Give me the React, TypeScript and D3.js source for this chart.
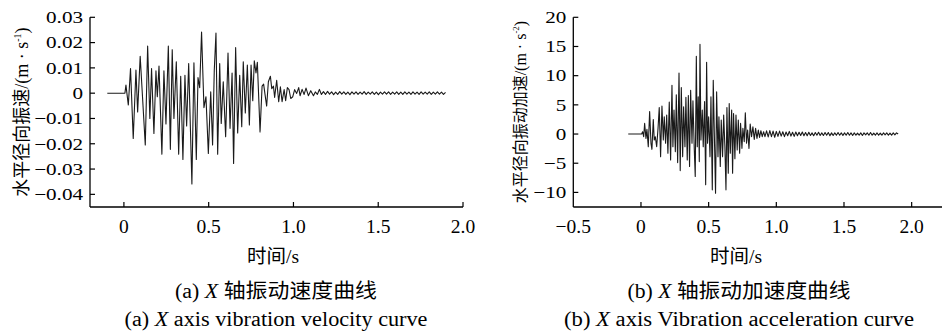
import React from "react";
import * as d3 from "d3";

// panel (a): horizontal radial vibration velocity, [time s, m/s]
const velocity: [number, number][] = [
  [-0.098, 0], [0.006, 0], [0.012, 0.0032], [0.026, -0.0047], [0.039, 0.0097], [0.055, -0.0179],
  [0.071, 0.0091], [0.081, -0.0074], [0.096, 0.0146], [0.126, -0.0205], [0.14, 0.0186], [0.153, -0.01],
  [0.163, 0.0097], [0.177, -0.0159], [0.189, 0.0088], [0.197, -0.0014], [0.207, 0.0107], [0.224, -0.0241],
  [0.236, 0.0088], [0.248, -0.0122], [0.262, 0.0186], [0.274, -0.0222], [0.285, 0.0172], [0.295, -0.01],
  [0.309, 0.0124], [0.323, -0.0241], [0.335, 0.0067], [0.348, -0.0262], [0.36, 0.0071], [0.37, -0.013],
  [0.382, 0.0117], [0.401, -0.0359], [0.413, 0.012], [0.427, -0.0262], [0.437, 0.0062], [0.447, 0.0022],
  [0.458, 0.0242], [0.472, -0.0057], [0.484, -0.0014], [0.498, -0.0238], [0.512, 0.0005], [0.523, -0.0205],
  [0.533, 0.0091], [0.543, 0.0238], [0.553, -0.0241], [0.565, 0.0117], [0.574, -0.012], [0.586, 0.0045],
  [0.6, -0.0172], [0.614, 0.0159], [0.626, -0.0139], [0.638, 0.008], [0.647, -0.0278], [0.659, 0.018],
  [0.671, -0.0157], [0.683, 0.0071], [0.695, -0.0133], [0.704, 0.0124], [0.716, -0.0078], [0.728, 0.0111],
  [0.74, -0.0126], [0.75, 0.0111], [0.76, -0.003], [0.769, 0.0128], [0.779, 0.008], [0.787, 0.0122],
  [0.803, -0.0153], [0.815, 0.0028], [0.824, 0.0036], [0.832, -0.0004], [0.842, -0.0051], [0.852, 0.0045],
  [0.864, 0.0067], [0.872, 0.0018], [0.882, 0.0028], [0.889, -0.0017], [0.901, 0.0051], [0.913, -0.0034],
  [0.923, 0.0025], [0.933, -0.0034], [0.945, 0.0014], [0.954, -0.003], [0.964, 0.0022], [0.974, 0.0014],
  [0.984, -0.0021], [0.996, -0.0014], [1.007, 0.0014], [1.019, -0.0001], [1.031, 0.0022], [1.039, -0.001],
  [1.051, 0.0015], [1.063, -0.0005], [1.074, 0.002], [1.088, -0.001], [1.102, 0.001], [1.118, -0.001],
  [1.129, 0.0005], [1.141, -0.0005], [1.153, 0.0015], [1.165, -0.0005],
  [1.177, 0.0006], [1.189, -0.0005], [1.201, 0.0007], [1.213, -0.0004], [1.225, 0.0005], [1.237, -0.0006],
  [1.249, 0.0004], [1.261, -0.0005], [1.273, 0.0006], [1.285, -0.0004], [1.297, 0.0005], [1.309, -0.0005],
  [1.321, 0.0004], [1.333, -0.0006], [1.345, 0.0005], [1.357, -0.0004], [1.369, 0.0005], [1.381, -0.0005],
  [1.393, 0.0004], [1.405, -0.0004], [1.417, 0.0006], [1.429, -0.0005], [1.441, 0.0004], [1.453, -0.0004],
  [1.465, 0.0005], [1.477, -0.0005], [1.489, 0.0004], [1.501, -0.0006], [1.513, 0.0004], [1.525, -0.0004],
  [1.537, 0.0005], [1.549, -0.0004], [1.561, 0.0005], [1.573, -0.0005], [1.585, 0.0004], [1.597, -0.0004],
  [1.609, 0.0005], [1.621, -0.0005], [1.633, 0.0004], [1.645, -0.0005], [1.657, 0.0005], [1.669, -0.0004],
  [1.681, 0.0004], [1.693, -0.0005], [1.705, 0.0005], [1.717, -0.0004], [1.729, 0.0004], [1.741, -0.0005],
  [1.753, 0.0005], [1.765, -0.0004], [1.777, 0.0004], [1.789, -0.0004], [1.801, 0.0005], [1.813, -0.0005],
  [1.825, 0.0004], [1.837, -0.0004], [1.849, 0.0005], [1.861, -0.0004], [1.873, 0.0004], [1.885, -0.0005],
  [1.897, 0.0003],
];

// panel (b): horizontal radial vibration acceleration, [time s, m/s^2]
const acceleration: [number, number][] = [
  [-0.094, 0], [0.005, 0], [0.012, 0.4], [0.02, -0.45], [0.027, 1.82], [0.037, -0.74], [0.044, 0.8],
  [0.054, -2.16], [0.064, 3.87], [0.074, -1.59], [0.081, -2.62], [0.091, 2.5], [0.098, -1.02], [0.106, -0.46],
  [0.116, -2.16], [0.126, 0.97], [0.135, 4.55], [0.145, -3.87], [0.155, 4.78], [0.165, -1.02], [0.172, 2.96],
  [0.182, -1.59], [0.19, 3.24], [0.199, -3.3], [0.209, 5.46], [0.219, -4.44], [0.229, 8.36], [0.236, -2.16],
  [0.244, 4.1], [0.254, -3.01], [0.261, 6.71], [0.271, -4.89], [0.281, 10.47], [0.29, -6.26], [0.298, 7.96],
  [0.308, -3.87], [0.315, 4.66], [0.325, -2.16], [0.332, 6.31], [0.342, -4.44], [0.35, 6.6], [0.359, -5.57],
  [0.367, 7.51], [0.377, -1.59], [0.384, 5.69], [0.394, -2.73], [0.401, -7.28], [0.409, 13.31], [0.416, -2.16],
  [0.423, 6.37], [0.431, -4.72], [0.436, 15.36], [0.443, -1.02], [0.453, 4.1], [0.46, -2.16], [0.47, 5.57],
  [0.478, -8.7], [0.485, 12.29], [0.492, -1.59], [0.5, 2.96], [0.51, -3.87], [0.517, 6.37], [0.527, -9.56],
  [0.534, 9.21], [0.544, -2.16], [0.551, -10.13], [0.559, 7.22], [0.569, -3.87], [0.576, 2.96], [0.586, -5.57],
  [0.593, 2.39], [0.603, -3.87], [0.611, 3.24], [0.62, -2.16], [0.628, -9.56], [0.635, 4.55], [0.645, -6.71],
  [0.652, 5.23], [0.66, -3.3], [0.67, 4.1], [0.677, -6.71], [0.684, 3.53], [0.694, -4.21], [0.702, 3.24],
  [0.711, -2.73], [0.719, 2.39], [0.729, -3.3], [0.736, 1.82], [0.746, -2.45], [0.753, 0.97], [0.763, -1.31],
  [0.771, 3.64], [0.78, -1.59], [0.788, 0.68], [0.798, -2.45], [0.807, 1.71], [0.817, -0.46], [0.827, 1.25],
  [0.837, -0.91], [0.847, 0.97], [0.857, -0.74], [0.867, 0.68], [0.876, -0.57], [0.886, 0.57], [0.896, -0.46],
  [0.906, 0.4], [0.916, -0.46],
  [0.928, 0.55], [0.94, -0.5], [0.952, 0.6], [0.964, -0.45], [0.976, 0.5], [0.988, -0.55], [1.0, 0.45],
  [1.012, -0.4], [1.024, 0.5], [1.036, -0.35], [1.048, 0.4], [1.06, -0.45], [1.072, 0.35], [1.084, -0.3],
  [1.096, 0.45], [1.108, -0.35], [1.12, 0.3], [1.132, -0.4], [1.144, 0.35], [1.156, -0.3], [1.168, 0.3],
  [1.18, -0.25], [1.192, 0.35], [1.204, -0.3], [1.216, 0.25], [1.228, -0.3], [1.24, 0.3], [1.252, -0.25],
  [1.264, 0.2], [1.276, -0.3], [1.288, 0.25], [1.3, -0.2], [1.312, 0.3], [1.324, -0.25], [1.336, 0.2],
  [1.348, -0.25], [1.36, 0.25], [1.372, -0.2], [1.384, 0.25], [1.396, -0.3], [1.408, 0.2], [1.42, -0.25],
  [1.432, 0.2], [1.444, -0.2], [1.456, 0.25], [1.468, -0.2], [1.48, 0.2], [1.492, -0.25], [1.504, 0.2],
  [1.516, -0.2], [1.528, 0.25], [1.54, -0.2], [1.552, 0.2], [1.564, -0.25], [1.576, 0.2], [1.588, -0.2],
  [1.6, 0.15], [1.612, -0.2], [1.624, 0.2], [1.636, -0.25], [1.648, 0.2], [1.66, -0.15], [1.672, 0.2],
  [1.684, -0.2], [1.696, 0.25], [1.708, -0.2], [1.72, 0.15], [1.732, -0.2], [1.744, 0.2], [1.756, -0.2],
  [1.768, 0.15], [1.78, -0.2], [1.792, 0.2], [1.804, -0.15], [1.816, 0.2], [1.828, -0.2], [1.84, 0.15],
  [1.852, -0.2], [1.864, 0.2], [1.876, -0.15], [1.888, 0.2], [1.9, 0],
];

const velYTicks = [0.03, 0.02, 0.01, 0, -0.01, -0.02, -0.03, -0.04];
const velYLabels = ["0.03", "0.02", "0.01", "0", "\u22120.01", "\u22120.02", "\u22120.03", "\u22120.04"];
const velXTicks = [0, 0.5, 1, 1.5, 2];
const velXLabels = ["0", "0.5", "1.0", "1.5", "2.0"];

const accYTicks = [20, 15, 10, 5, 0, -5, -10];
const accYLabels = ["20", "15", "10", "5", "0", "\u22125", "\u221210"];
const accXTicks = [-0.5, 0, 0.5, 1, 1.5, 2];
const accXLabels = ["\u22120.5", "0", "0.5", "1.0", "1.5", "2.0"];

const FONT = '"Liberation Serif", "Times New Roman", "Noto Sans CJK SC", serif';

type PanelProps = {
  data: [number, number][];
  xDomain: [number, number];
  xRange: [number, number];
  yDomain: [number, number];
  xTicks: number[];
  xLabels: string[];
  yTicks: number[];
  yLabels: string[];
  yTitle: string;
  unitExp: string;
  yTitleX: number;
  yTitleSize: number;
  axisEnd: number;
  center: number;
  capCn: string;
  capCnLen: number;
  capEn: string;
  capEnLen: number;
  letter: string;
};

const TOP = 17.3;
const BOTTOM = 207;

function Panel(p: PanelProps) {
  const x = d3.scaleLinear().domain(p.xDomain).range(p.xRange);
  const y = d3.scaleLinear().domain(p.yDomain).range([BOTTOM, TOP]);
  const line = d3
    .line<[number, number]>()
    .x((d) => x(d[0]))
    .y((d) => y(d[1]));
  const x0 = p.xRange[0];

  return (
    <g fontFamily={FONT} fill="#000">
      <path d={line(p.data) ?? ""} fill="none" stroke="#1a1a1a" strokeWidth={1.1} strokeLinejoin="round" />

      {/* axes */}
      <line x1={x0} x2={x0} y1={TOP} y2={BOTTOM} stroke="#000" strokeWidth={1.3} />
      <line x1={x0} x2={p.axisEnd} y1={BOTTOM} y2={BOTTOM} stroke="#000" strokeWidth={1.3} />

      {p.yTicks.map((t, i) => (
        <g key={"y" + t}>
          <line x1={x0} x2={x0 + 5} y1={y(t)} y2={y(t)} stroke="#000" strokeWidth={1.2} />
          <text
            transform={`translate(${x0 - 7},${y(t)}) scale(1.28,1)`}
            textAnchor="end"
            dy="0.35em"
            fontSize={16.5}
          >
            {p.yLabels[i]}
          </text>
        </g>
      ))}

      {p.xTicks.map((t, i) => (
        <g key={"x" + t}>
          {x(t) > x0 + 1 && (
            <line x1={x(t)} x2={x(t)} y1={BOTTOM} y2={BOTTOM - 5} stroke="#000" strokeWidth={1.2} />
          )}
          <text x={x(t)} y={233} textAnchor="middle" fontSize={19.5}>
            {p.xLabels[i]}
          </text>
        </g>
      ))}

      <text
        transform={`translate(${p.yTitleX},${(TOP + BOTTOM) / 2}) rotate(-90)`}
        textAnchor="middle"
        dy="0.35em"
        fontSize={p.yTitleSize}
      >
        {p.yTitle}
        <tspan fontSize={p.yTitleSize * 0.55} dy={-p.yTitleSize * 0.4}>
          {p.unitExp}
        </tspan>
        <tspan dy={p.yTitleSize * 0.4}>)</tspan>
      </text>

      <text x={p.center - 3} y={263} textAnchor="middle" fontSize={19.5}>
        时间/s
      </text>

      <text x={p.center} y={298} textAnchor="middle" fontSize={20} textLength={p.capCnLen} lengthAdjust="spacingAndGlyphs">
        ({p.letter}) <tspan fontStyle="italic">X</tspan> {p.capCn}
      </text>
      <text x={p.center} y={326} textAnchor="middle" fontSize={20} textLength={p.capEnLen} lengthAdjust="spacingAndGlyphs">
        ({p.letter}) <tspan fontStyle="italic">X</tspan> {p.capEn}
      </text>
    </g>
  );
}

export default function App() {
  return (
    <svg
      width={942}
      height={332}
      style={{ position: "absolute", left: 0, top: 0, background: "#fff" }}
    >
      <Panel
        data={velocity}
        xDomain={[-0.2, 2.0]}
        xRange={[90, 463]}
        yDomain={[-0.045, 0.03]}
        xTicks={velXTicks}
        xLabels={velXLabels}
        yTicks={velYTicks}
        yLabels={velYLabels}
        yTitle="水平径向振速/(m · s"
        unitExp="-1"
        yTitleX={22}
        yTitleSize={18}
        axisEnd={463}
        center={276}
        capCn="轴振动速度曲线"
        capCnLen={202}
        capEn="axis vibration velocity curve"
        capEnLen={303}
        letter="a"
      />
      <Panel
        data={acceleration}
        xDomain={[-0.5, 2.25]}
        xRange={[573.3, 945.5]}
        yDomain={[-12.5, 20]}
        xTicks={accXTicks}
        xLabels={accXLabels}
        yTicks={accYTicks}
        yLabels={accYLabels}
        yTitle="水平径向振动加速/(m · s"
        unitExp="-2"
        yTitleX={520}
        yTitleSize={16}
        axisEnd={942}
        center={739}
        capCn="轴振动加速度曲线"
        capCnLen={223}
        capEn="axis Vibration acceleration curve"
        capEnLen={350}
        letter="b"
      />
    </svg>
  );
}
